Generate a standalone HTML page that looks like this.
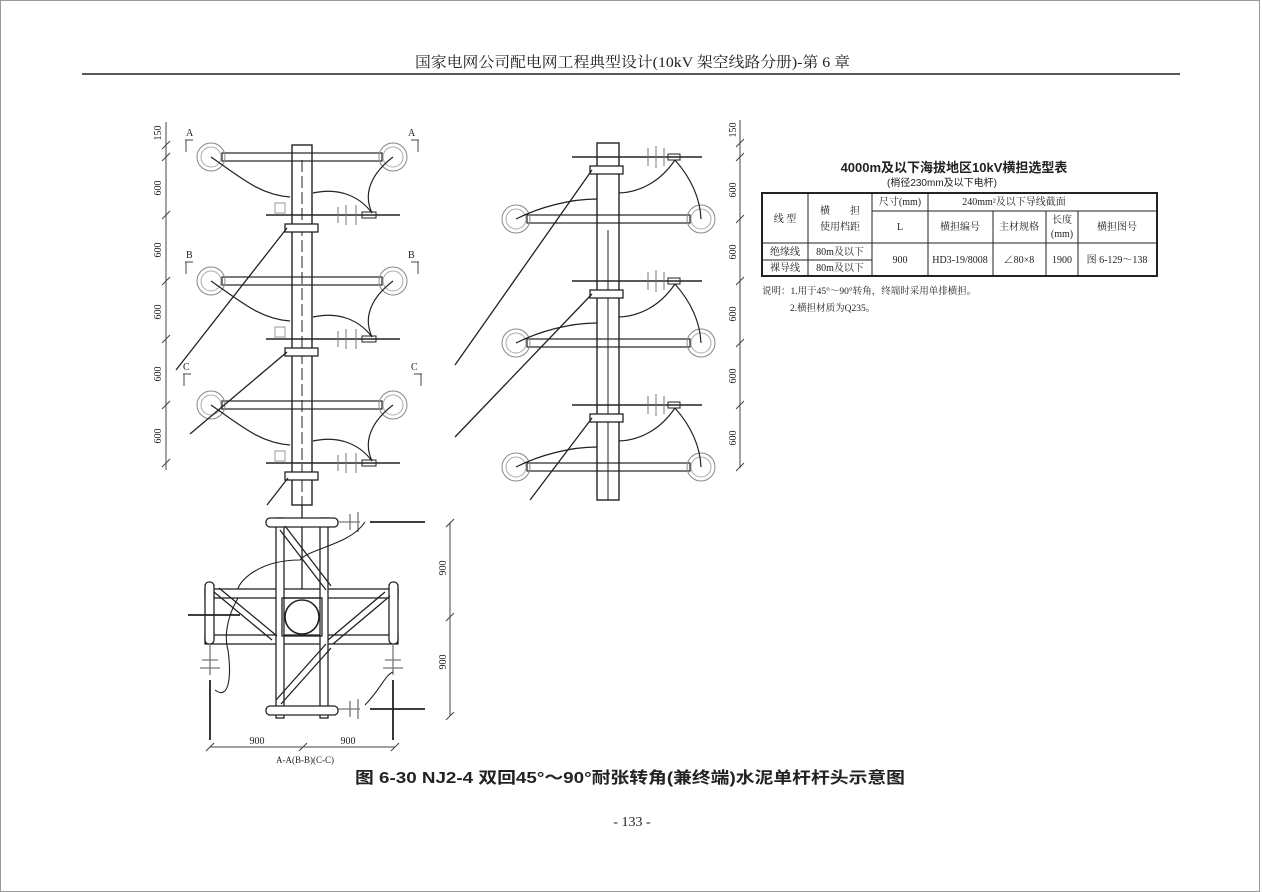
<!DOCTYPE html>
<html><head><meta charset="utf-8"><style>
html,body{margin:0;padding:0;background:#fff;}
svg{display:block}
text{font-family:"Liberation Serif","Noto Serif CJK SC",serif;fill:#222}
.s{font-family:"Liberation Sans","Noto Sans CJK SC",sans-serif}
</style></head><body>
<svg width="1262" height="892" viewBox="0 0 1262 892" xmlns="http://www.w3.org/2000/svg">
<rect x="0.5" y="0.5" width="1259" height="891" fill="none" stroke="#999"/>
<text x="415" y="67" font-size="15" textLength="435" lengthAdjust="spacingAndGlyphs">国家电网公司配电网工程典型设计(10kV 架空线路分册)-第 6 章</text>
<line x1="82" y1="74" x2="1180" y2="74" stroke="#222" stroke-width="1.5"/>
<defs>
  <g id="longL" stroke="#222" fill="none">
    <rect x="222" y="-4" width="160" height="8" stroke-width="1.2"/>
    <circle cx="211" cy="0" r="14" stroke="#888"/><circle cx="211" cy="0" r="10" stroke="#aaa"/>
    <circle cx="393" cy="0" r="14" stroke="#888"/><circle cx="393" cy="0" r="10" stroke="#aaa"/>
    <path d="M211 0 C240 20 260 38 290 40" stroke-width="1.2"/>
    <path d="M393 0 C380 10 360 30 372 56" stroke-width="1.2"/>
    <path d="M313 36 C340 30 360 40 372 56" stroke-width="1.2"/>
  </g>
  <g id="shortL" stroke="#222" fill="none">
    <line x1="266" y1="0" x2="400" y2="0" stroke-width="1.5"/>
    <rect x="275" y="-12" width="10" height="10" stroke="#999"/>
    <path d="M338 -8 L338 8 M346 -10 L346 10 M356 -10 L356 10" stroke="#777"/>
    <rect x="362" y="-3" width="14" height="6"/>
    <rect x="285" y="9" width="33" height="8" stroke-width="1.3" fill="#fff"/>
  </g>
  <g id="longR" stroke="#222" fill="none">
    <rect x="527" y="-4" width="163" height="8" stroke-width="1.2"/>
    <circle cx="516" cy="0" r="14" stroke="#888"/><circle cx="516" cy="0" r="10" stroke="#aaa"/>
    <circle cx="701" cy="0" r="14" stroke="#888"/><circle cx="701" cy="0" r="10" stroke="#aaa"/>
    <path d="M516 0 C540 -12 570 -20 597 -20" stroke-width="1.2"/>
  </g>
  <g id="shortR" stroke="#222" fill="none">
    <line x1="572" y1="0" x2="702" y2="0" stroke-width="1.5"/>
    <path d="M648 -9 L648 9 M656 -11 L656 11 M664 -9 L664 9" stroke="#777"/>
    <rect x="668" y="-3" width="12" height="6"/>
    <rect x="590" y="9" width="33" height="8" stroke-width="1.3" fill="#fff"/>
    <path d="M675 3 C660 25 640 35 619 36" stroke-width="1.2"/>
    <path d="M675 3 C690 20 700 40 701 62" stroke-width="1.2"/>
  </g>
</defs>
<g stroke="#222" fill="none">
  <rect x="292" y="145" width="20" height="360" stroke-width="1.4" fill="#fff"/>
  <line x1="302" y1="160" x2="302" y2="505" stroke-dasharray="12 4"/>
</g>
<use href="#longL" y="157"/><use href="#longL" y="281"/><use href="#longL" y="405"/>
<use href="#shortL" y="215"/><use href="#shortL" y="339"/><use href="#shortL" y="463"/>
<g stroke="#222" stroke-width="1.3">
  <line x1="287" y1="228" x2="176" y2="370"/><line x1="287" y1="352" x2="190" y2="434"/><line x1="288" y1="478" x2="267" y2="505"/>
</g>
<g stroke="#444" fill="none"><line x1="166" y1="122" x2="166" y2="470"/>
<path d="M162 149 L170 141 M162 161 L170 153 M162 219 L170 211 M162 285 L170 277 M162 343 L170 335 M162 409 L170 401 M162 467 L170 459"/></g>
<g font-size="10">
<text transform="translate(161,133) rotate(-90)" text-anchor="middle">150</text>
<text transform="translate(161,188) rotate(-90)" text-anchor="middle">600</text>
<text transform="translate(161,250) rotate(-90)" text-anchor="middle">600</text>
<text transform="translate(161,312) rotate(-90)" text-anchor="middle">600</text>
<text transform="translate(161,374) rotate(-90)" text-anchor="middle">600</text>
<text transform="translate(161,436) rotate(-90)" text-anchor="middle">600</text>
<text x="186" y="136">A</text><text x="408" y="136">A</text>
<text x="186" y="258">B</text><text x="408" y="258">B</text>
<text x="183" y="370">C</text><text x="411" y="370">C</text>
</g>
<g stroke="#444" fill="none"><path d="M185 140 H193 M186 140 V152 M411 140 H419 M418 140 V152 M185 262 H193 M186 262 V274 M411 262 H419 M418 262 V274 M183 374 H191 M184 374 V386 M414 374 H422 M421 374 V386"/></g>
<g stroke="#222" fill="none">
  <rect x="597" y="143" width="22" height="357" stroke-width="1.4" fill="#fff"/>
  <line x1="608" y1="230" x2="608" y2="500"/>
</g>
<use href="#longR" y="219"/><use href="#longR" y="343"/><use href="#longR" y="467"/>
<use href="#shortR" y="157"/><use href="#shortR" y="281"/><use href="#shortR" y="405"/>
<g stroke="#222" stroke-width="1.3">
  <line x1="592" y1="170" x2="455" y2="365"/><line x1="592" y1="294" x2="455" y2="437"/><line x1="592" y1="418" x2="530" y2="500"/>
</g>
<g stroke="#444" fill="none"><line x1="740" y1="120" x2="740" y2="468"/>
<path d="M736 147 L744 139 M736 161 L744 153 M736 223 L744 215 M736 285 L744 277 M736 347 L744 339 M736 409 L744 401 M736 471 L744 463"/></g>
<g font-size="10">
<text transform="translate(736,130) rotate(-90)" text-anchor="middle">150</text>
<text transform="translate(736,190) rotate(-90)" text-anchor="middle">600</text>
<text transform="translate(736,252) rotate(-90)" text-anchor="middle">600</text>
<text transform="translate(736,314) rotate(-90)" text-anchor="middle">600</text>
<text transform="translate(736,376) rotate(-90)" text-anchor="middle">600</text>
<text transform="translate(736,438) rotate(-90)" text-anchor="middle">600</text>
</g>
<g stroke="#222" fill="none" stroke-width="1.3">
  <line x1="302" y1="505" x2="302" y2="597"/>
  <rect x="205" y="589" width="193" height="9" fill="#fff"/>
  <rect x="205" y="635" width="193" height="9" fill="#fff"/>
  <rect x="276" y="518" width="8" height="200" fill="#fff"/>
  <rect x="320" y="518" width="8" height="200" fill="#fff"/>
  <rect x="266" y="518" width="72" height="9" rx="4" fill="#fff"/>
  <rect x="266" y="706" width="72" height="9" rx="4" fill="#fff"/>
  <rect x="205" y="582" width="9" height="62" rx="4" fill="#fff"/>
  <rect x="389" y="582" width="9" height="62" rx="4" fill="#fff"/>
  <path d="M280 530 L326 590 M285 526 L331 586"/>
  <path d="M214 592 L272 640 M219 588 L277 636"/>
  <path d="M385 592 L328 640 M390 596 L333 644"/>
  <path d="M326 644 L276 700 M331 648 L281 704"/>
  <circle cx="302" cy="617" r="17" fill="#fff" stroke-width="1.6"/>
  <rect x="282" y="598" width="40" height="38"/>
  <line x1="188" y1="615" x2="240" y2="615" stroke-width="1.8"/>
  <path d="M338 522 L360 522 M350 514 L350 530 M358 512 L358 532" stroke="#777"/>
  <line x1="370" y1="522" x2="425" y2="522" stroke-width="1.8"/>
  <path d="M338 709 L360 709 M350 701 L350 717 M358 699 L358 719" stroke="#777"/>
  <line x1="370" y1="709" x2="425" y2="709" stroke-width="1.8"/>
  <path d="M210 644 L210 675 M202 660 L218 660 M200 668 L220 668" stroke="#777"/>
  <line x1="210" y1="680" x2="210" y2="740" stroke-width="1.8"/>
  <path d="M393 644 L393 675 M385 660 L401 660 M383 668 L403 668" stroke="#777"/>
  <line x1="393" y1="680" x2="393" y2="740" stroke-width="1.8"/>
  <path d="M365 522 C350 545 310 548 300 560 C260 560 240 580 238 589 M238 598 C225 620 225 640 228 650 C232 680 228 700 215 690" stroke-width="1.1"/>
  <path d="M365 705 C380 690 385 675 393 672" stroke-width="1.1"/>
</g>
<g stroke="#444" fill="none"><line x1="450" y1="523" x2="450" y2="716"/><line x1="210" y1="747" x2="395" y2="747"/>
<path d="M446 527 L454 519 M446 621 L454 613 M446 720 L454 712 M206 751 L214 743 M299 751 L307 743 M391 751 L399 743"/></g>
<g font-size="10">
<text transform="translate(446,568) rotate(-90)" text-anchor="middle">900</text>
<text transform="translate(446,662) rotate(-90)" text-anchor="middle">900</text>
<text x="257" y="744" text-anchor="middle">900</text><text x="348" y="744" text-anchor="middle">900</text>
<text x="305" y="763" text-anchor="middle" font-size="9">A-A(B-B)(C-C)</text>
</g>
<text x="355" y="783" font-size="16" class="s" font-weight="bold" textLength="550" lengthAdjust="spacingAndGlyphs">图 6-30  NJ2-4 双回45°～90°耐张转角(兼终端)水泥单杆杆头示意图</text>
<text x="632" y="826" font-size="14" text-anchor="middle">- 133 -</text>
<text x="954" y="172" font-size="13" font-weight="bold" class="s" text-anchor="middle">4000m及以下海拔地区10kV横担选型表</text>
<text x="942" y="186" font-size="10" class="s" text-anchor="middle">(梢径230mm及以下电杆)</text>
<g stroke="#222" fill="none">
<rect x="762" y="193" width="395" height="83" stroke-width="2"/>
<path d="M808 193 V276 M872 193 V276 M928 193 V276 M993 211 V276 M1046 211 V276 M1078 211 V276 M872 211 H1157 M762 243 H1157 M762 260 H872"/>
</g>
<g font-size="10" text-anchor="middle">
<text x="785" y="222">线 型</text><text x="840" y="214">横　　担</text><text x="840" y="230">使用档距</text>
<text x="900" y="205">尺寸(mm)</text><text x="1014" y="205">240mm²及以下导线截面</text>
<text x="900" y="230">L</text><text x="960" y="230">横担编号</text><text x="1019" y="230">主材规格</text>
<text x="1062" y="223">长度</text><text x="1062" y="237">(mm)</text><text x="1117" y="230">横担图号</text>
<text x="785" y="255">绝缘线</text><text x="840" y="255">80m及以下</text>
<text x="785" y="271">裸导线</text><text x="840" y="271">80m及以下</text>
<text x="900" y="263">900</text><text x="960" y="263">HD3-19/8008</text><text x="1019" y="263">∠80×8</text>
<text x="1062" y="263">1900</text><text x="1117" y="263">图 6-129～138</text>
</g>
<text x="762" y="294" font-size="9.5">说明：1.用于45°～90°转角，终端时采用单排横担。</text>
<text x="790" y="311" font-size="9.5">2.横担材质为Q235。</text>
</svg>
</body></html>
